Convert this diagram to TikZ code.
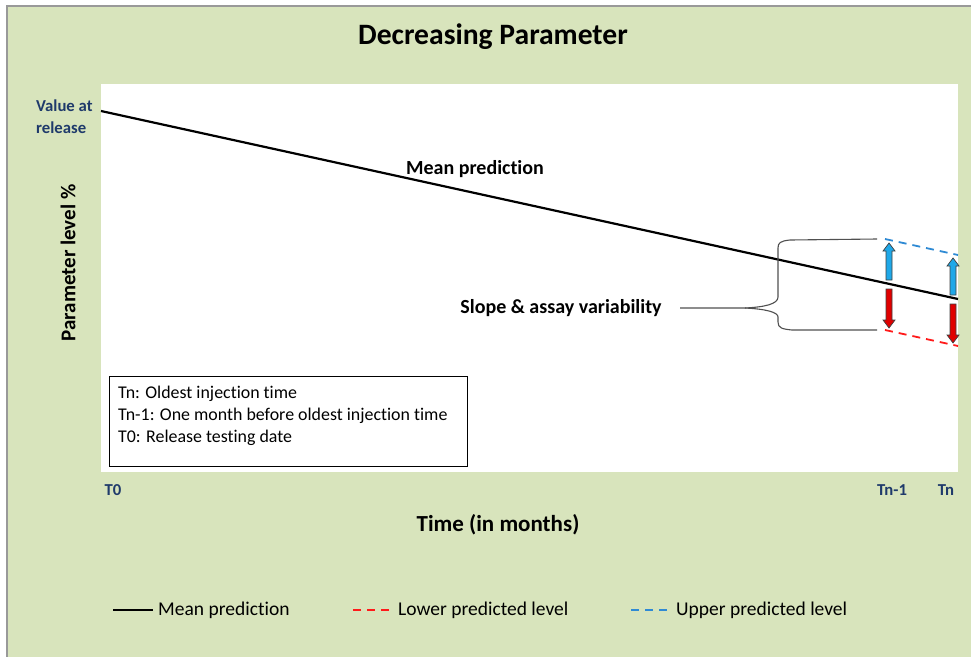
\documentclass[tikz,border=0pt]{standalone}
\usepackage{fontspec}
\setmainfont[Ligatures=NoCommon]{Carlito}
\usetikzlibrary{calc}
\definecolor{bggreen}{HTML}{D8E4BC}
\definecolor{navy}{HTML}{1F3A6B}
\definecolor{arrblue}{HTML}{1FA8E8}
\definecolor{dashblue}{HTML}{2F8AD4}
\definecolor{dashred}{HTML}{FF1A1A}
\definecolor{arrred}{HTML}{E00000}
\definecolor{bracegray}{HTML}{505050}
\tikzset{
  axlabel/.style={text=navy,font=\bfseries\fontsize{16.7}{19}\selectfont,inner sep=0pt},
  boldlabel/.style={font=\bfseries\fontsize{20}{23}\selectfont,inner sep=0pt},
  legtext/.style={font=\fontsize{17.9}{20}\selectfont,inner sep=0pt,anchor=west},
  bottomleg/.style={font=\fontsize{19.5}{22}\selectfont,inner sep=0pt,anchor=west},
  upperdash/.style={dashblue,line width=1.8pt,dash pattern=on 8pt off 6pt},
  lowerdash/.style={dashred,line width=1.8pt,dash pattern=on 8pt off 6pt},
  meanline/.style={black,line width=2.2pt},
  bracestyle/.style={bracegray,line width=1.1pt},
}
\newcommand{\uparr}[4]{% color, x, ybottom, ytip
  \filldraw[fill=#1,draw=black!75,line width=0.7pt]
    (#2-3,#3) -- (#2-3,#4+8) -- (#2-6,#4+8) -- (#2,#4) -- (#2+6,#4+8) -- (#2+3,#4+8) -- (#2+3,#3) -- cycle;}
\newcommand{\downarr}[4]{% color, x, ytop, ytip
  \filldraw[fill=#1,draw=black!75,line width=0.7pt]
    (#2-3,#3) -- (#2-3,#4-8) -- (#2-6,#4-8) -- (#2,#4) -- (#2+6,#4-8) -- (#2+3,#4-8) -- (#2+3,#3) -- cycle;}
\begin{document}
\begin{tikzpicture}[x=1pt,y=-1pt]
\useasboundingbox (0,0) rectangle (971,656);
\fill[white] (0,0) rectangle (971,656);
% chart background
\filldraw[fill=bggreen,draw=gray!80,line width=1.2pt] (7,6) rectangle (990,670);
% plot area
\fill[white] (101,84) rectangle (958,472);
% title
\node[font=\bfseries\fontsize{29.6}{34}\selectfont,inner sep=0pt] (title) at (493,37) {Decreasing Parameter};
% axis labels
\node[axlabel,align=left,anchor=west,font=\bfseries\fontsize{16.7}{22}\selectfont] (val) at (36,117) {Value at\\release};
\node[boldlabel,rotate=90,font=\bfseries\fontsize{21}{24}\selectfont] (ylab) at (68,263) {Parameter level \%};
\node[axlabel] (t0) at (113,490) {T0};
\node[axlabel] (tn1) at (892,490) {Tn-1};
\node[axlabel] (tn) at (946,490) {Tn};
\node[boldlabel,font=\bfseries\fontsize{23}{26}\selectfont] (xlab) at (498,525) {Time (in months)};
% mean line
\coordinate (m0) at (101,111);
\coordinate (m1) at (958,299);
\draw[meanline] (m0) -- (m1);
\node[boldlabel] (meanlab) at (475,169) {Mean prediction};
% predicted levels
\coordinate (u1) at (885,239);
\coordinate (u2) at (958,255);
\coordinate (l1) at (885,330);
\coordinate (l2) at (958,346);
\draw[upperdash] (u1) -- (u2);
\draw[lowerdash] (l1) -- (l2);
% block arrows
\uparr{arrblue}{889}{280}{243}
\uparr{arrblue}{953}{295}{258}
\downarr{arrred}{889}{289}{328}
\downarr{arrred}{953}{304}{343}
% brace
\node[boldlabel] (slope) at (561,308) {Slope \& assay variability};
\coordinate (btip) at (680,308);
\coordinate (btop) at (877,239);
\coordinate (bbot) at (877,330);
\draw[bracestyle] (btop) -- (790,240) .. controls (780,241) and (778,243) .. (778,248) -- (778,297)
  .. controls (778,304) and (765,307) .. (745,308) -- (btip);
\draw[bracestyle] (745,308) .. controls (765,309) and (778,312) .. (778,317) -- (778,322)
  .. controls (778,328) and (782,329) .. (792,330) -- (bbot);
% legend box inside plot
\node[draw=black,line width=0.9pt,fill=white,minimum width=358pt,minimum height=90pt,inner sep=0pt,anchor=north west] (defbox) at (109,376) {};
\node[legtext] (d1) at ($(defbox.north west)+(9,18)$) {Tn: Oldest injection time};
\node[legtext] (d2) at ($(defbox.north west)+(9,40)$) {Tn-1: One month before oldest injection time};
\node[legtext] (d3) at ($(defbox.north west)+(9,62)$) {T0: Release testing date};
% bottom legend
\coordinate (a1) at (113,610); \coordinate (a2) at (153,610);
\draw[meanline] (a1) -- (a2);
\node[bottomleg] (lg1) at (158,610) {Mean prediction};
\coordinate (b1) at (353,610); \coordinate (b2) at (393,610);
\draw[lowerdash] (b1) -- (b2);
\node[bottomleg] (lg2) at (398,610) {Lower predicted level};
\coordinate (c1) at (631,610); \coordinate (c2) at (671,610);
\draw[upperdash] (c1) -- (c2);
\node[bottomleg] (lg3) at (676,610) {Upper predicted level};
\end{tikzpicture}
\end{document}
